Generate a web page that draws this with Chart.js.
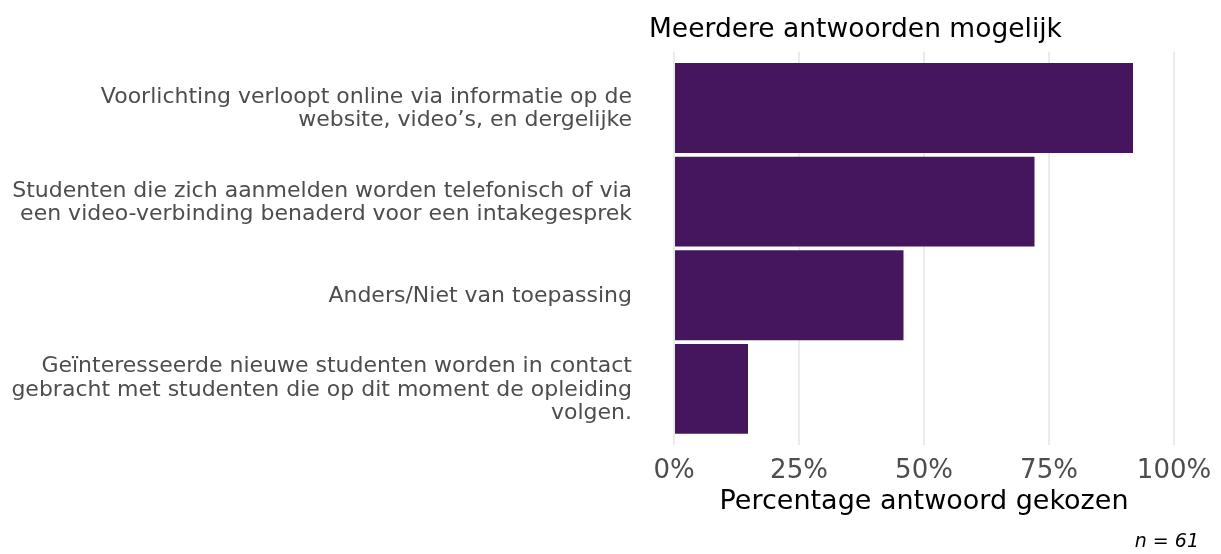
<!DOCTYPE html>
<html>
<head>
<meta charset="utf-8">
<script src="https://cdn.jsdelivr.net/npm/chart.js@4"></script>
<style>
  html, body { margin: 0; padding: 0; background: #fff; }
  #wrap { width: 1221px; height: 554px; }
</style>
</head>
<body>
<div id="wrap"><canvas id="barChart"></canvas></div>
<script>
// answers, top to bottom (multi-line labels as arrays)
var categories = [
  ['Voorlichting verloopt online via informatie op de', 'website, video\u2019s, en dergelijke'],
  ['Studenten die zich aanmelden worden telefonisch of via', 'een video-verbinding benaderd voor een intakegesprek'],
  ['Anders/Niet van toepassing'],
  ['Ge\u00efnteresseerde nieuwe studenten worden in contact', 'gebracht met studenten die op dit moment de opleiding', 'volgen.']
];
var percentages = [91.8, 72.1, 45.9, 14.8];
var xTicks = [0, 25, 50, 75, 100];
var nRespondents = 61;

var barColour = '#45165e';

var points = [];
for (var i = 0; i < percentages.length; i++) {
  points.push({x: percentages[i], y: i});
}

var ctx = document.getElementById('barChart').getContext('2d');
var myChart = new Chart(ctx, {
  type: 'bar',
  data: {
    datasets: [{
      data: points,
      backgroundColor: barColour,
      borderWidth: 0,
      barPercentage: 0.96,
      categoryPercentage: 1
    }]
  },
  options: {
    indexAxis: 'y',
    responsive: true,
    maintainAspectRatio: false,
    animation: false,
    layout: { padding: { left: 0, right: 22, top: 4, bottom: 0 } },
    plugins: {
      legend: { display: false },
      tooltip: { enabled: false },
      title: {
        display: true,
        text: 'Meerdere antwoorden mogelijk',
        align: 'start',
        fullSize: false,
        color: '#000',
        font: { family: 'DejaVu Sans', size: 26.5, weight: 'normal' },
        padding: { top: 10, bottom: 6 }
      },
      subtitle: {
        display: true,
        position: 'bottom',
        text: 'n = ' + nRespondents,
        align: 'end',
        fullSize: false,
        color: '#000',
        font: { family: 'DejaVu Sans', size: 19, style: 'italic', lineHeight: '10px' },
        padding: { top: 0, bottom: 7 }
      }
    },
    scales: {
      x: {
        type: 'linear',
        min: -5,
        max: 105,
        afterBuildTicks: function(axis){
          axis.ticks = xTicks.map(function(v){ return {value: v}; });
        },
        afterFit: function(axis){
          // labels sit inside the 5% margin, no extra room needed
          axis.paddingLeft = 0;
          axis.paddingRight = 0;
        },
        border: { display: false },
        grid: { color: '#ebebeb', lineWidth: 2, drawTicks: false },
        ticks: {
          color: '#4d4d4d',
          padding: 13,
          maxRotation: 0,
          font: { family: 'DejaVu Sans', size: 26, lineHeight: 1 },
          callback: function(v){ return v + '%'; }
        },
        title: {
          display: true,
          text: 'Percentage antwoord gekozen',
          color: '#000',
          font: { family: 'DejaVu Sans', size: 27, lineHeight: '10px' },
          padding: { top: 0, bottom: 30 }
        }
      },
      y: {
        type: 'linear',
        reverse: true,
        offset: false,
        min: -0.6,
        max: 3.6,
        afterBuildTicks: function(axis){
          axis.ticks = categories.map(function(c, i){ return {value: i}; });
        },
        afterFit: function(axis){
          axis.width = 649;
        },
        border: { display: false },
        grid: { display: false, drawTicks: false },
        ticks: {
          color: '#4d4d4d',
          padding: 17,
          labelOffset: 1,
          font: { family: 'DejaVu Sans', size: 22, lineHeight: 1.05 },
          callback: function(v){ return categories[v] || ''; }
        }
      }
    }
  }
});
</script>
</body>
</html>
